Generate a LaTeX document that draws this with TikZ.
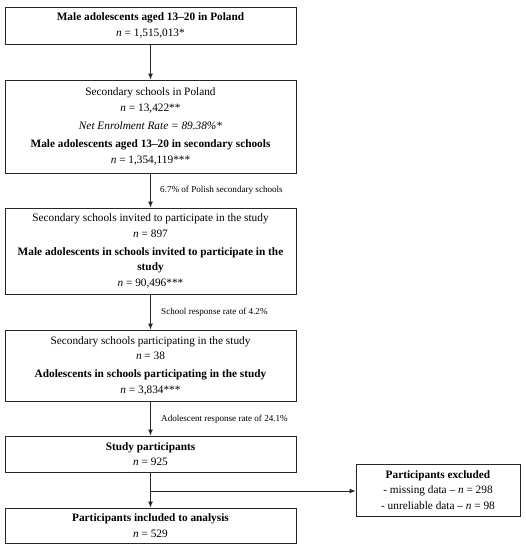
\documentclass[tikz,border=0pt]{standalone}
\usepackage{fontspec}
\setmainfont{Liberation Serif}
\usetikzlibrary{arrows.meta}
\begin{document}
\begin{tikzpicture}[x=1pt,y=-1pt,
  box/.style={draw=black!85,line width=0.9pt,align=center,inner sep=0pt,
    minimum width=291pt,font=\fontsize{11.3}{15.3}\selectfont},
  arr/.style={draw=black!85,line width=0.9pt,-{Latex[length=6pt,width=5pt]}},
  lbl/.style={anchor=west,font=\fontsize{9.1}{10}\selectfont,inner sep=0pt}]
\useasboundingbox (0,0) rectangle (526,550);
\node[box,minimum height=37pt] (b1) at (150.5,25.5) {\textbf{Male adolescents aged 13–20 in Poland}\\ \textit{n} = 1,515,013*};
\node[box,minimum height=93pt] (b2) at (150.5,126.5) {Secondary schools in Poland\\ \textit{n} = 13,422**\\[3pt] \textit{Net Enrolment Rate = 89.38\%*}\\[3pt] \textbf{Male adolescents aged 13–20 in secondary schools}\\ \textit{n} = 1,354,119***};
\node[box,minimum height=86pt] (b3) at (150.5,251) {Secondary schools invited to participate in the study\\ \textit{n} = 897\\[3pt] \textbf{Male adolescents in schools invited to participate in the}\\ \textbf{study}\\ \textit{n} = 90,496***};
\node[box,minimum height=71pt] (b4) at (150.5,365.5) {Secondary schools participating in the study\\ \textit{n} = 38\\[3pt] \textbf{Adolescents in schools participating in the study}\\ \textit{n} = 3,834***};
\node[box,minimum height=36pt] (b5) at (150.5,454) {\textbf{Study participants}\\ \textit{n} = 925};
\node[box,minimum height=35pt] (b6) at (150.5,525.5) {\textbf{Participants included to analysis}\\ \textit{n} = 529};
\node[box,minimum width=164pt,minimum height=52pt] (ex) at (438,490) {\textbf{Participants excluded}\\ - missing data – \textit{n} = 298\\ - unreliable data – \textit{n} = 98};
\coordinate (br) at (150.5,491);
\draw[arr] (b1) -- (b2);
\draw[arr] (b2) -- (b3);
\draw[arr] (b3) -- (b4);
\draw[arr] (b4) -- (b5);
\draw[arr] (b5) -- (b6);
\draw[arr] (br) -- (ex.west |- br);
\node[lbl] (l1) at (160,190) {6.7\% of Polish secondary schools};
\node[lbl] (l2) at (161,312) {School response rate of 4.2\%};
\node[lbl] (l3) at (161,419) {Adolescent response rate of 24.1\%};
\end{tikzpicture}
\end{document}
